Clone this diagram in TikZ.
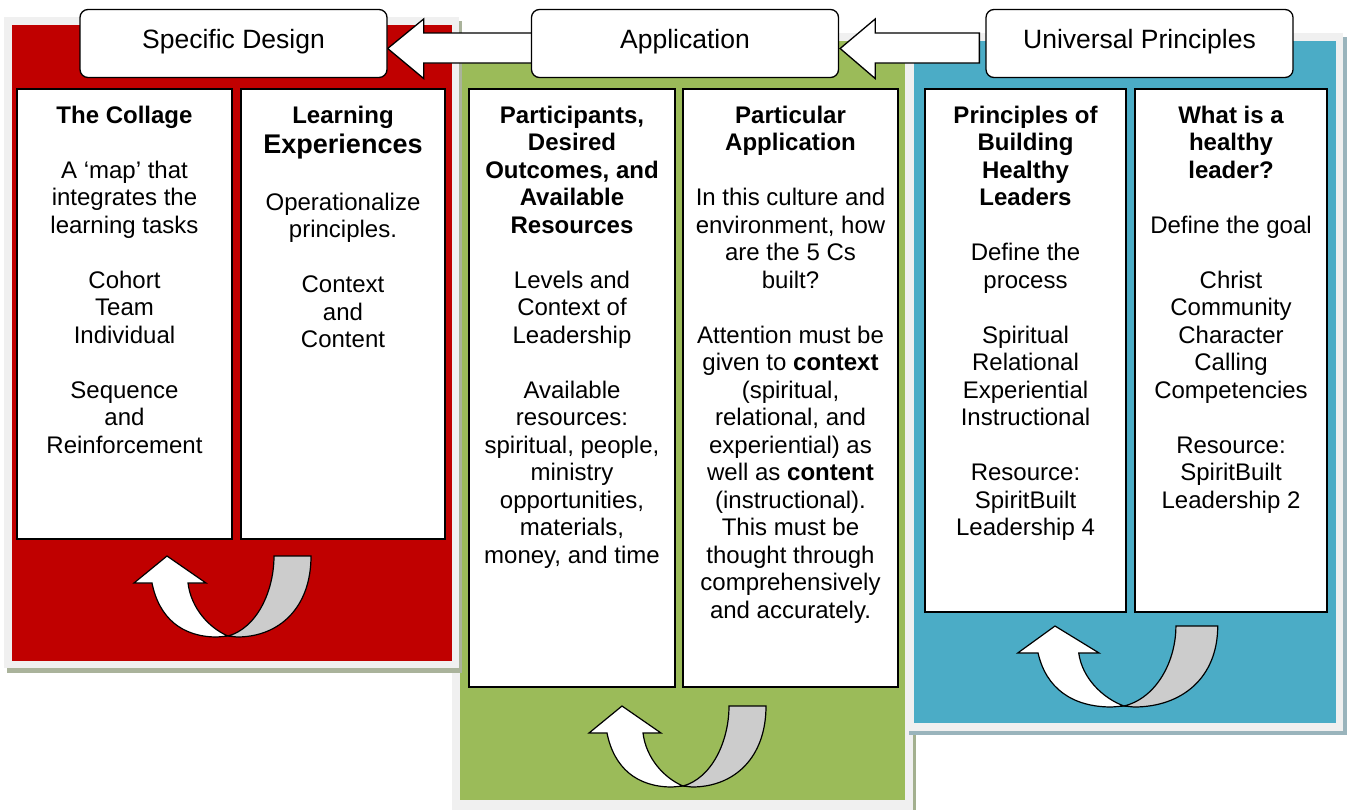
\documentclass[tikz,border=0pt]{standalone}
\usepackage{fontspec}
\setmainfont{Liberation Sans}
\usetikzlibrary{calc}
\pgfdeclarelayer{bg}
\pgfdeclarelayer{mid}
\pgfsetlayers{bg,mid,main}
\definecolor{redp}{HTML}{C00000}
\definecolor{greenp}{HTML}{9BBB59}
\definecolor{bluep}{HTML}{4BACC6}
\definecolor{framegray}{HTML}{F0F0F0}
\definecolor{redshadow}{HTML}{AAB39B}
\definecolor{greenshadow}{HTML}{A3B08F}
\definecolor{blueshadow}{HTML}{9AB4BC}
\definecolor{uarrowgray}{HTML}{CCCCCC}
\tikzset{
  hdr/.style={draw=black, line width=1.3pt, fill=white, rounded corners=8pt,
    minimum width=307pt, minimum height=68pt, inner sep=0pt,
    font=\fontsize{26.5}{30}\selectfont, text height=16pt, text depth=6pt},
  card/.style={draw=black, line width=2pt, fill=white, inner sep=0pt},
  body/.style={align=center, inner sep=0pt, anchor=north,
    font=\fontsize{24}{27.5}\selectfont},
  barrow/.style={draw=black, line width=1.3pt, fill=white, line join=miter},
  uback/.style={draw=black, line width=1.2pt, fill=uarrowgray},
  ufront/.style={draw=black, line width=1.2pt, fill=white},
  uturn/.pic={
    \draw[uback] (61,80) .. controls (90,72) and (107,35) .. (107,0) -- (144,0)
      .. controls (144,52) and (112,81) .. (70,81) -- cycle;
    \draw[ufront] (61,80) .. controls (42,72) and (24,52) .. (21,27) -- (39,27)
      -- (0,0) -- (-33,27) -- (-15,27) .. controls (-8,62) and (15,81) .. (50,81) -- cycle;
  }
}
\begin{document}
\begin{tikzpicture}[x=1pt,y=-1pt]
\useasboundingbox (0,0) rectangle (1348,809);
\clip (0,0) rectangle (1348,809);
\begin{pgfonlayer}{bg}
% green panel
\fill[greenshadow] (455,37) rectangle (916,818);
\fill[framegray] (452,33) rectangle (913,815);
\fill[greenp] (460,41) rectangle (905,800);
% red panel
\fill[redshadow] (7,21) rectangle (462,673);
\fill[framegray] (4,17) rectangle (459,668);
\fill[redp] (12,25) rectangle (452,661);
% blue panel
\fill[blueshadow] (909,37) rectangle (1347,735);
\fill[framegray] (906,33) rectangle (1343,731);
\fill[bluep] (914,41) rectangle (1336,723);

% cards
\node[card, minimum width=215pt, minimum height=450pt] (r1) at (124.5,314) {};
\node[card, minimum width=204pt, minimum height=450pt] (r2) at (343,314) {};
\node[card, minimum width=206pt, minimum height=598pt] (g1) at (572,388) {};
\node[card, minimum width=215pt, minimum height=598pt] (g2) at (790.5,388) {};
\node[card, minimum width=201pt, minimum height=523pt] (b1) at (1025.5,350.5) {};
\node[card, minimum width=192pt, minimum height=523pt] (b2) at (1231,350.5) {};

\node[body] (r1t) at ($(r1.north)+(0,17.5)$) {{\bfseries The Collage}\\[27.5pt]A ‘map’ that\\integrates the\\learning tasks\\[27.5pt]Cohort\\Team\\Individual\\[27.5pt]Sequence\\and\\Reinforcement};
\node[body] (r2t) at ($(r2.north)+(0,17.5)$) {{\bfseries Learning}\\[2.5pt]{\bfseries\fontsize{27}{31}\selectfont Experiences}\\[29.5pt]Operationalize\\principles.\\[27.5pt]Context\\and\\Content};
\node[body] (g1t) at ($(g1.north)+(0,17.5)$) {{\bfseries Participants,}\\{\bfseries Desired}\\{\bfseries Outcomes, and}\\{\bfseries Available}\\{\bfseries Resources}\\[27.5pt]Levels and\\Context of\\Leadership\\[27.5pt]Available\\resources:\\spiritual, people,\\ministry\\opportunities,\\materials,\\money, and time};
\node[body] (g2t) at ($(g2.north)+(0,17.5)$) {{\bfseries Particular}\\{\bfseries Application}\\[27.5pt]In this culture and\\environment, how\\are the 5 Cs\\built?\\[27.5pt]Attention must be\\given to \textbf{context}\\(spiritual,\\relational, and\\experiential) as\\well as \textbf{content}\\(instructional).\\This must be\\thought through\\comprehensively\\and accurately.};
\node[body] (b1t) at ($(b1.north)+(0,17.5)$) {{\bfseries Principles of}\\{\bfseries Building}\\{\bfseries Healthy}\\{\bfseries Leaders}\\[27.5pt]Define the\\process\\[27.5pt]Spiritual\\Relational\\Experiential\\Instructional\\[27.5pt]Resource:\\SpiritBuilt\\Leadership 4};
\node[body] (b2t) at ($(b2.north)+(0,17.5)$) {{\bfseries What is a}\\{\bfseries healthy}\\{\bfseries leader?}\\[27.5pt]Define the goal\\[27.5pt]Christ\\Community\\Character\\Calling\\Competencies\\[27.5pt]Resource:\\SpiritBuilt\\Leadership 2};

% U-turn arrows
\pic[shift={(167,556)}] {uturn};
\pic[shift={(622,706)}] {uturn};
\pic[shift={(1055,626)}, xscale=1.13] {uturn};
\end{pgfonlayer}

% header boxes
\node[hdr] (sd) at (233.5,43.5) {Specific Design};
\node[hdr] (app) at (685,43.5) {Application};
\node[hdr] (up) at (1139.5,43.5) {Universal Principles};

% block arrows, behind the header boxes
\begin{pgfonlayer}{mid}
\coordinate (t1) at ($(sd.east)+(0,5)$);
\coordinate (t2) at ($(app.east)+(1,5)$);
\draw[barrow] (t1) -- ++(36,-29.5) -- ++(0,14) -- ($(app.west)+(6,-10.5)$)
  -- ($(app.west)+(6,19.5)$) -- ($(t1)+(36,14.5)$) -- ($(t1)+(36,30)$) -- cycle;
\draw[barrow] (t2) -- ++(35,-29.5) -- ++(0,14) -- ($(up.west)+(-6,-10.5)$)
  -- ($(up.west)+(-6,19.5)$) -- ($(t2)+(35,14.5)$) -- ($(t2)+(35,30)$) -- cycle;
\end{pgfonlayer}
\end{tikzpicture}
\end{document}
